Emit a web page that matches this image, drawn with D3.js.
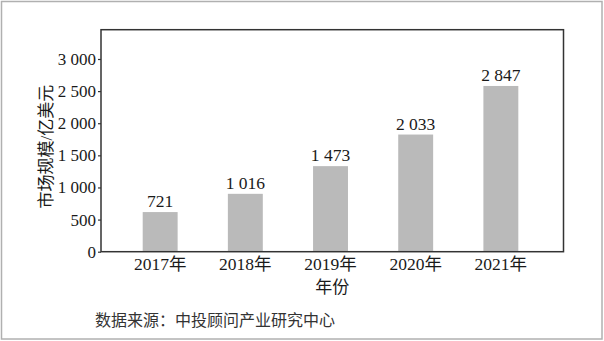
<!DOCTYPE html>
<html>
<head>
<meta charset="utf-8">
<script src="https://cdn.jsdelivr.net/npm/d3@7"></script>
<style>
  body { margin: 0; background: #fff; }
</style>
</head>
<body>
<div id="chart"></div>
<script>
// categories, bar heights as drawn, and the value labels printed above them
const years = ["2017年", "2018年", "2019年", "2020年", "2021年"];
const barValues = [617, 901, 1332, 1824, 2580];
const valueLabels = ["721", "1 016", "1 473", "2 033", "2 847"];
const yTicks = [0, 500, 1000, 1500, 2000, 2500, 3000];

const W = 604, H = 341;
const plotLeft = 101, plotRight = 563.5, plotTop = 29.7, plotBottom = 251.7;
const SERIF = "'Liberation Serif', 'Times New Roman', 'DejaVu Serif', 'Noto Sans CJK SC', serif";

const svg = d3.select("#chart").append("svg")
    .attr("width", W)
    .attr("height", H);

// outer picture border
svg.append("rect")
    .attr("x", 1.5).attr("y", 1.5)
    .attr("width", W - 3.5).attr("height", H - 3.5)
    .attr("fill", "none")
    .attr("stroke", "#b0b0b0")
    .attr("stroke-width", 1.5);

const x = d3.scaleBand()
    .domain(years)
    .range([plotLeft, plotRight])
    .paddingInner(0.59)
    .paddingOuter(0.51)
    .align(0.48);

const y = d3.scaleLinear()
    .domain([0, 3456])
    .range([plotBottom, plotTop]);

const fmt = v => v >= 1000 ? d3.format(",")(v).replace(",", " ") : String(v);

// bars
svg.selectAll(".bar")
    .data(years)
    .enter()
    .append("rect")
    .attr("class", "bar")
    .attr("x", d => x(d))
    .attr("y", (d, i) => y(barValues[i]))
    .attr("width", x.bandwidth())
    .attr("height", (d, i) => y(0) - y(barValues[i]))
    .attr("fill", "#bababa");

// value labels
svg.selectAll(".val")
    .data(years)
    .enter()
    .append("text")
    .attr("class", "val")
    .attr("x", d => x(d) + x.bandwidth() / 2)
    .attr("y", (d, i) => y(barValues[i]) - 5)
    .attr("text-anchor", "middle")
    .style("font-family", SERIF)
    .style("font-size", "17.5px")
    .style("fill", "#1a1a1a")
    .text((d, i) => valueLabels[i]);

// y axis
const yAxis = svg.append("g")
    .attr("transform", `translate(${plotLeft},0)`)
    .call(d3.axisLeft(y).tickValues(yTicks).tickSize(3).tickPadding(2).tickFormat(fmt));
yAxis.select(".domain").remove();
yAxis.selectAll("line").attr("stroke", "#333").attr("stroke-width", 1.2);
yAxis.selectAll("text")
    .style("font-family", SERIF)
    .style("font-size", "17px")
    .style("fill", "#1a1a1a");

// x axis labels
const xAxis = svg.append("g")
    .attr("transform", `translate(0,${plotBottom})`)
    .call(d3.axisBottom(x).tickSize(0).tickPadding(6));
xAxis.select(".domain").remove();
xAxis.selectAll("text")
    .style("font-family", SERIF)
    .style("font-size", "17.5px")
    .style("fill", "#1a1a1a");

// plot frame
svg.append("rect")
    .attr("x", plotLeft).attr("y", plotTop)
    .attr("width", plotRight - plotLeft).attr("height", plotBottom - plotTop)
    .attr("fill", "none")
    .attr("stroke", "#333")
    .attr("stroke-width", 1.5);

// axis titles
svg.append("text")
    .attr("transform", `translate(52,${(plotTop + plotBottom) / 2 + 6}) rotate(-90)`)
    .attr("text-anchor", "middle")
    .style("font-family", SERIF)
    .style("font-size", "17px")
    .style("fill", "#1a1a1a")
    .text("市场规模/亿美元");

svg.append("text")
    .attr("x", (plotLeft + plotRight) / 2)
    .attr("y", 293)
    .attr("text-anchor", "middle")
    .style("font-family", SERIF)
    .style("font-size", "17px")
    .style("fill", "#1a1a1a")
    .text("年份");

svg.append("text")
    .attr("x", 95)
    .attr("y", 326)
    .style("font-family", SERIF)
    .style("font-size", "16px")
    .style("fill", "#333")
    .text("数据来源：中投顾问产业研究中心");
</script>
</body>
</html>
